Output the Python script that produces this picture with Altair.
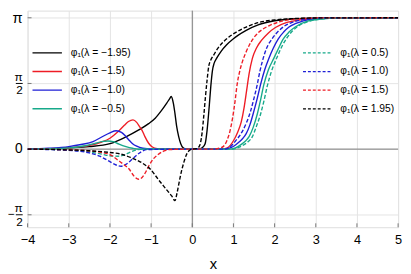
import math
import altair as alt
import pandas as pd

PI = math.pi

# ---- legend labels and colours ----
labels_neg = ["φ₁(λ = −1.95)", "φ₁(λ = −1.5)", "φ₁(λ = −1.0)", "φ₁(λ = −0.5)"]
labels_pos = ["φ₁(λ = 0.5)", "φ₁(λ = 1.0)", "φ₁(λ = 1.5)", "φ₁(λ = 1.95)"]
colors_neg = ["#000000", "#ee1c25", "#1f1fd6", "#17a98a"]
colors_pos = ["#17a98a", "#1f1fd6", "#ee1c25", "#000000"]

# ---- solid curves (negative lambda) ----
x_m195 = [-4, -3.5, -3, -2.5, -2, -1.6, -1.3, -1.06, -0.9, -0.75, -0.62, -0.54, -0.51, -0.46, -0.42, -0.38,
          -0.33, -0.28, -0.22, -0.15, 0, 0.15, 0.25, 0.31, 0.36, 0.41, 0.45, 0.49, 0.53, 0.59, 0.7, 0.83, 1.0,
          1.11, 1.31, 1.6, 2.0, 2.5, 3.0, 3.5, 5]
y_m195 = [0, 0.01, 0.03, 0.06, 0.13, 0.3, 0.46, 0.61, 0.74, 0.92, 1.1, 1.22, 1.26, 1.1, 0.85, 0.55,
          0.3, 0.13, 0.03, 0.005, 0, 0.005, 0.04, 0.12, 0.45, 1.0, 1.5, 1.88, 2.05, 2.17, 2.34, 2.49, 2.64,
          2.72, 2.84, 2.97, 3.07, 3.12, 3.135, 3.14, 3.1416]

x_m15 = [-4, -3.5, -3, -2.5, -2.2, -2.0, -1.8, -1.65, -1.55, -1.44, -1.35, -1.28, -1.22, -1.15, -1.06, -0.97,
         -0.85, -0.7, 0, 0.7, 0.85, 1.0, 1.1, 1.19, 1.26, 1.32, 1.38, 1.46, 1.56, 1.68, 1.85, 2.02, 2.3, 2.6,
         3.0, 3.4, 5]
y_m15 = [0, 0.01, 0.03, 0.09, 0.17, 0.26, 0.42, 0.57, 0.66, 0.70, 0.64, 0.54, 0.45, 0.3, 0.14, 0.05,
         0.01, 0, 0, 0, 0.03, 0.2, 0.4, 0.65, 1.0, 1.4, 1.8, 2.17, 2.42, 2.6, 2.78, 2.91, 3.03, 3.09,
         3.125, 3.138, 3.1416]

x_m10 = [-4, -3.5, -3, -2.7, -2.41, -2.2, -2.0, -1.85, -1.72, -1.62, -1.54, -1.45, -1.35, -1.2, -1.0, 0, 0.8,
         0.95, 1.05, 1.15, 1.23, 1.31, 1.40, 1.50, 1.58, 1.66, 1.76, 1.86, 1.97, 2.09, 2.22, 2.35, 2.5, 2.7,
         3.0, 3.5, 5]
y_m10 = [0, 0.02, 0.06, 0.11, 0.18, 0.29, 0.39, 0.44, 0.40, 0.31, 0.22, 0.13, 0.07, 0.02, 0.0, 0, 0,
         0.04, 0.1, 0.18, 0.26, 0.37, 0.58, 0.92, 1.22, 1.55, 1.9, 2.17, 2.42, 2.64, 2.8, 2.92, 3.0, 3.07,
         3.12, 3.14, 3.1416]

x_m05 = [-4, -3.5, -3, -2.6, -2.35, -2.2, -2.05, -1.92, -1.78, -1.61, -1.45, -1.3, 0, 0.9, 1.05, 1.2, 1.3,
         1.38, 1.48, 1.58, 1.66, 1.74, 1.85, 1.98, 2.1, 2.2, 2.35, 2.5, 2.8, 3.2, 3.6, 5]
y_m05 = [0, 0.01, 0.03, 0.08, 0.14, 0.18, 0.195, 0.18, 0.12, 0.06, 0.02, 0.0, 0, 0, 0.03, 0.12, 0.2,
         0.30, 0.52, 0.84, 1.18, 1.55, 1.9, 2.17, 2.42, 2.62, 2.8, 2.92, 3.06, 3.12, 3.14, 3.1416]

# ---- dashed curves (positive lambda) ----
x_p05 = [-4, -3.5, -3, -2.5, -2.2, -2.0, -1.8, -1.65, -1.52, -1.4, -1.25, 0, 0.95, 1.1, 1.25, 1.36, 1.46,
         1.56, 1.66, 1.74, 1.82, 1.92, 2.06, 2.2, 2.41, 2.6, 2.81, 3.1, 3.4, 5]
y_p05 = [0, -0.005, -0.02, -0.07, -0.12, -0.16, -0.17, -0.14, -0.08, -0.03, -0.005, 0, 0, 0.03, 0.1,
         0.18, 0.30, 0.55, 0.84, 1.15, 1.5, 1.85, 2.2, 2.5, 2.80, 2.96, 3.05, 3.11, 3.135, 3.1416]

x_p10 = [-4, -3.5, -3, -2.5, -2.25, -2.0, -1.85, -1.73, -1.62, -1.5, -1.38, -1.25, -1.1, 0, 0.8, 0.95, 1.07,
         1.15, 1.23, 1.32, 1.42, 1.5, 1.58, 1.64, 1.70, 1.8, 1.94, 2.1, 2.25, 2.45, 2.7, 3.0, 3.4, 5]
y_p10 = [0, -0.01, -0.03, -0.09, -0.17, -0.3, -0.38, -0.41, -0.37, -0.28, -0.17, -0.07, -0.01, 0, 0,
         0.08, 0.22, 0.32, 0.45, 0.64, 0.92, 1.22, 1.55, 1.85, 2.09, 2.4, 2.64, 2.83, 2.95, 3.04, 3.1,
         3.13, 3.14, 3.1416]

x_p15 = [-4, -3.5, -3, -2.5, -2.2, -2.0, -1.77, -1.65, -1.54, -1.42, -1.3, -1.22, -1.12, -1.06, -0.95,
         -0.83, -0.7, -0.55, 0, 0.5, 0.65, 0.75, 0.84, 0.92, 0.98, 1.04, 1.09, 1.15, 1.22, 1.31, 1.42,
         1.54, 1.7, 1.86, 2.1, 2.4, 2.8, 3.2, 5]
y_p15 = [0, -0.005, -0.015, -0.04, -0.08, -0.13, -0.29, -0.38, -0.47, -0.64, -0.72, -0.68, -0.53, -0.41,
         -0.24, -0.13, -0.05, -0.01, 0, 0, 0.02, 0.06, 0.2, 0.45, 0.75, 1.15, 1.55, 1.85, 2.1, 2.33, 2.55,
         2.72, 2.86, 2.95, 3.04, 3.1, 3.13, 3.14, 3.1416]

x_p195 = [-4, -3.5, -3, -2.5, -2, -1.77, -1.5, -1.22, -1.0, -0.83, -0.7, -0.6, -0.5, -0.42, -0.37, -0.32,
          -0.27, -0.2, -0.15, -0.08, 0, 0.1, 0.16, 0.2, 0.24, 0.28, 0.32, 0.36, 0.40, 0.45, 0.52, 0.62,
          0.75, 0.9, 1.07, 1.31, 1.54, 2.0, 2.5, 3.0, 5]
y_p195 = [0, -0.005, -0.02, -0.04, -0.08, -0.11, -0.2, -0.33, -0.5, -0.72, -0.88, -1.0, -1.12, -1.23,
          -1.05, -0.8, -0.56, -0.3, -0.15, -0.04, 0, 0.01, 0.05, 0.15, 0.4, 0.8, 1.25, 1.65, 1.98, 2.13,
          2.25, 2.41, 2.56, 2.69, 2.80, 2.92, 3.01, 3.09, 3.125, 3.138, 3.1416]

x_ticks = [-4, -3, -2, -1, 0, 1, 2, 3, 4, 5]
y_ticks = [-PI / 2, 0, PI / 2, PI]
# single-line y tick labels
y_plain_vals = [0, PI]
y_plain_text = ["0", "π"]
y_plain_size = [14, 15]
# fractional y tick labels: numerator / bar / denominator (and sign)
y_frac_vals = [-PI / 2, PI / 2]
y_frac_num = ["π", "π"]
y_frac_den = ["2", "2"]
y_frac_sign = ["−", ""]


def rows(xs, ys, label):
    return [{"x": a, "y": b, "s": label} for a, b in zip(xs, ys)]


neg = pd.DataFrame(rows(x_m195, y_m195, labels_neg[0]) + rows(x_m15, y_m15, labels_neg[1])
                   + rows(x_m10, y_m10, labels_neg[2]) + rows(x_m05, y_m05, labels_neg[3]))
pos = pd.DataFrame(rows(x_p05, y_p05, labels_pos[0]) + rows(x_p10, y_p10, labels_pos[1])
                   + rows(x_p15, y_p15, labels_pos[2]) + rows(x_p195, y_p195, labels_pos[3]))
plain = pd.DataFrame({"y": y_plain_vals, "t": y_plain_text, "size": y_plain_size})
frac = pd.DataFrame({"y": y_frac_vals, "num": y_frac_num, "den": y_frac_den, "sign": y_frac_sign})
xt = pd.DataFrame({"x": x_ticks})
yt = pd.DataFrame({"y": y_ticks})

FONT = "Liberation Sans"
H = 221
xscale = alt.Scale(domain=[-4, 5], nice=False, zero=False)
yscale = alt.Scale(domain=[-1.869, 3.313], nice=False, zero=False)

X = alt.X("x:Q", scale=xscale,
          axis=alt.Axis(values=x_ticks, title="x", grid=True, gridColor="#e3e3e3", domain=False,
                        ticks=False, tickSize=0, labelFontSize=13, labelFont=FONT, labelColor="#000",
                        labelPadding=7, titleFont=FONT, titleFontSize=15, titleFontWeight="normal",
                        titleColor="#000", titlePadding=10, labelFlush=False, labelOverlap=False))
Y = alt.Y("y:Q", scale=yscale,
          axis=alt.Axis(values=y_ticks, title=None, grid=True, gridColor="#e3e3e3", domain=False,
                        ticks=False, tickSize=0, labels=False))
YL = alt.Y("y:Q", scale=yscale)
XL = alt.X("x:Q", scale=xscale)

solid = alt.Chart(neg).mark_line(interpolate="monotone", clip=True).encode(
    x=X, y=Y,
    color=alt.Color("s:N", scale=alt.Scale(domain=labels_neg, range=colors_neg),
                    legend=alt.Legend(orient="none", legendX=4, legendY=34, title=None,
                                      symbolType="stroke", symbolSize=900, symbolStrokeWidth=1.3,
                                      labelFont=FONT, labelFontSize=10.5, labelColor="#000",
                                      labelOffset=8, rowPadding=0, padding=0, clipHeight=18.3)),
    strokeWidth=alt.StrokeWidth("s:N", scale=alt.Scale(domain=labels_neg, range=[1.4, 1.4, 1.9, 1.4]),
                                legend=None),
    order=alt.Order("x:Q"),
)

dashed = alt.Chart(pos).mark_line(interpolate="monotone", clip=True, strokeDash=[4, 2],
                                  strokeWidth=1.4).encode(
    x=X, y=Y,
    color=alt.Color("s:N", scale=alt.Scale(domain=labels_pos, range=colors_pos),
                    legend=alt.Legend(orient="none", legendX=280, legendY=34, title=None,
                                      symbolType="stroke", symbolSize=784, symbolStrokeWidth=1.2,
                                      symbolDash=[3, 2],
                                      labelFont=FONT, labelFontSize=10.5, labelColor="#000",
                                      labelOffset=9, rowPadding=0, padding=0, clipHeight=18.3)),
    order=alt.Order("x:Q"),
)

vzero = alt.Chart(pd.DataFrame({"x": [0]})).mark_rule(color="#7a7a7a", strokeWidth=1).encode(x=X)
hzero = alt.Chart(pd.DataFrame({"y": [0]})).mark_rule(color="#7a7a7a", strokeWidth=1).encode(y=Y)

# inward tick marks on the bottom and left frame
xtick = alt.Chart(xt).mark_rule(color="#777777", strokeWidth=1).encode(
    x=XL, y=alt.value(H - 4), y2=alt.value(H))
ytick = alt.Chart(yt).mark_rule(color="#777777", strokeWidth=1).encode(
    y=YL, x=alt.value(0), x2=alt.value(4))

# y tick labels drawn beside the axis
lab_plain = alt.Chart(plain).mark_text(align="right", baseline="middle", font=FONT, color="#000",
                                       clip=False).encode(
    x=alt.value(-5), y=YL, text="t:N", size=alt.Size("size:Q", scale=None, legend=None))
lab_num = alt.Chart(frac).mark_text(align="right", baseline="middle", font=FONT, color="#000",
                                    fontSize=12, dy=-7, clip=False).encode(
    x=alt.value(-5), y=YL, text="num:N")
lab_den = alt.Chart(frac).mark_text(align="right", baseline="middle", font=FONT, color="#000",
                                    fontSize=12, dy=7, clip=False).encode(
    x=alt.value(-5), y=YL, text="den:N")
lab_sign = alt.Chart(frac).mark_text(align="right", baseline="middle", font=FONT, color="#000",
                                     fontSize=12, dy=-1, clip=False).encode(
    x=alt.value(-13), y=YL, text="sign:N")
lab_bar = alt.Chart(frac).mark_rule(color="#000", strokeWidth=1, clip=False).encode(
    x=alt.value(-12), x2=alt.value(-5), y=YL)

chart = alt.layer(vzero, hzero, xtick, ytick, solid, dashed, lab_plain, lab_num, lab_den, lab_sign,
                  lab_bar).resolve_scale(
    color="independent", strokeWidth="independent"
).properties(
    width=378, height=H,
    autosize=alt.AutoSizeParams(type="none"),
    padding={"left": 20, "top": 0, "right": 5, "bottom": 44},
).configure_view(stroke="#777777", strokeWidth=1).configure(background="white")

chart.save("out.html", embed_options={"renderer": "svg", "actions": False})
